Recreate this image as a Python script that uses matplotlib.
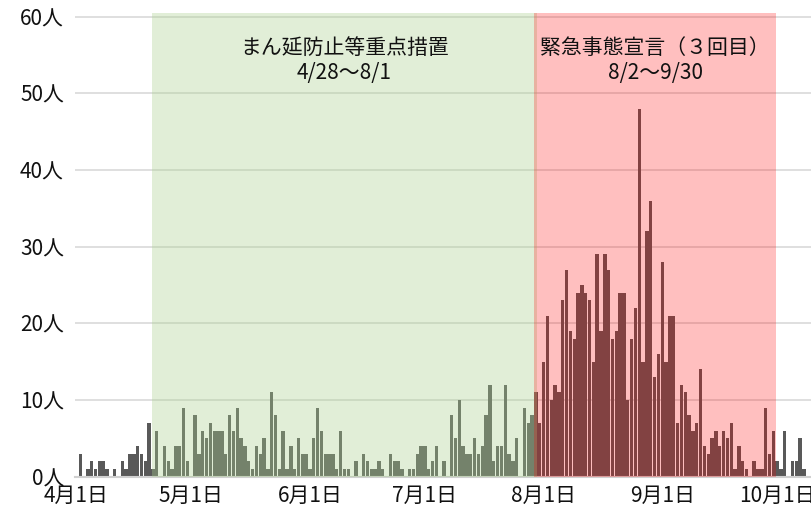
import matplotlib
matplotlib.use("Agg")
import matplotlib.pyplot as plt
import matplotlib.dates as mdates
import pandas as pd

plt.rcParams['font.family'] = ['Noto Sans CJK JP', 'DejaVu Sans']

# ---- data ----
start_date = "2021-04-02"
daily_cases = [
    3, 0, 1, 2, 1, 2, 2, 1, 0, 1, 0, 2, 1, 3, 3, 4, 3, 2, 7,
    1, 6, 0, 4, 2, 1, 4, 4, 9, 2, 0, 8, 3,
    6, 5, 7, 6, 6, 6, 3, 8, 6, 9, 5, 4, 2, 1, 4, 3, 5, 1, 11, 8, 1, 6, 1, 4, 1, 5, 3, 3, 1, 5, 9,
    6, 3, 3, 3, 1, 6, 1, 1, 0, 2, 0, 3, 2, 1, 1, 2, 1, 0, 3, 2, 2, 1, 0, 1, 1, 3, 4, 4, 1,
    2, 4, 0, 2, 0, 8, 5, 10, 4, 3, 3, 5, 3, 4, 8, 12, 2, 4, 4, 12, 3, 2, 5, 0, 9, 7, 8,
    11, 7, 15, 21, 10, 12, 11, 23, 27, 19, 18, 24, 25, 24, 23, 15, 29, 19, 29, 27, 18, 19, 24,
    24, 10, 18, 22, 48, 15, 32, 36, 13, 16, 28, 15, 21, 21, 7, 12, 11, 8, 6, 7, 14, 4, 3,
    5, 6, 4, 6, 5, 7, 1, 4, 2, 1, 0, 2, 1, 1, 9, 3, 6, 2, 1, 6, 0, 2, 2, 5, 1,
]
dates = pd.date_range(start_date, periods=len(daily_cases), freq="D")

ytick_values = [0, 10, 20, 30, 40, 50, 60]
ytick_labels = [f"{v}人" for v in ytick_values]
xtick_dates = ["2021-04-01", "2021-05-01", "2021-06-01", "2021-07-01",
               "2021-08-01", "2021-09-01", "2021-10-01"]
xtick_labels = ["4月1日", "5月1日", "6月1日", "7月1日", "8月1日", "9月1日", "10月1日"]

period_labels = ["まん延防止等重点措置\n4/28〜8/1", "緊急事態宣言（３回目）\n8/2〜9/30"]
period_starts = ["2021-04-20 17:00", "2021-07-29 12:00"]
period_ends = ["2021-07-30 07:00", "2021-09-30 17:00"]
period_colors = ["#A9D18E", "#FF0000"]
period_alphas = [0.35, 0.25]

# ---- figure ----
fig = plt.figure(figsize=(8.12, 5.21), dpi=100)
ax = fig.add_axes([75 / 812, (521 - 476.7) / 521, 1 - 75 / 812, (476.7 - 13) / 521])

x = mdates.date2num(dates)
ax.bar(x, daily_cases, width=0.88, color="#595959", zorder=2, linewidth=0)

for lab, s, e, c, a in zip(period_labels, period_starts, period_ends, period_colors, period_alphas):
    xs = mdates.date2num(pd.Timestamp(s))
    xe = mdates.date2num(pd.Timestamp(e))
    ax.axvspan(xs, xe, ymin=0, ymax=1, color=c, alpha=a, lw=0, zorder=3)
    ax.text((xs + xe) / 2, 54.3, lab, ha="center", va="center", multialignment="center",
            fontsize=15, linespacing=1.15, color="#111111", zorder=5)

x0 = mdates.date2num(pd.Timestamp(start_date))
ax.set_xlim(x0 - 1.36, x0 + 191.1)
ax.set_ylim(0, 60.48)

ax.set_yticks(ytick_values)
ax.set_yticklabels(ytick_labels)
ax.set_xticks(mdates.date2num(pd.to_datetime(xtick_dates)))
ax.set_xticklabels(xtick_labels)
ax.tick_params(axis="both", length=0, labelsize=15, colors="#111111")
ax.tick_params(axis="y", pad=8)
ax.tick_params(axis="x", pad=6)

ax.yaxis.grid(True, color="#d9d9d9", lw=1.2, zorder=0)
ax.set_axisbelow(True)
for side in ["top", "right", "left"]:
    ax.spines[side].set_visible(False)
ax.spines["bottom"].set_color("#d0d0d0")
ax.spines["bottom"].set_linewidth(1.5)

fig.savefig("out.png", dpi=100)
